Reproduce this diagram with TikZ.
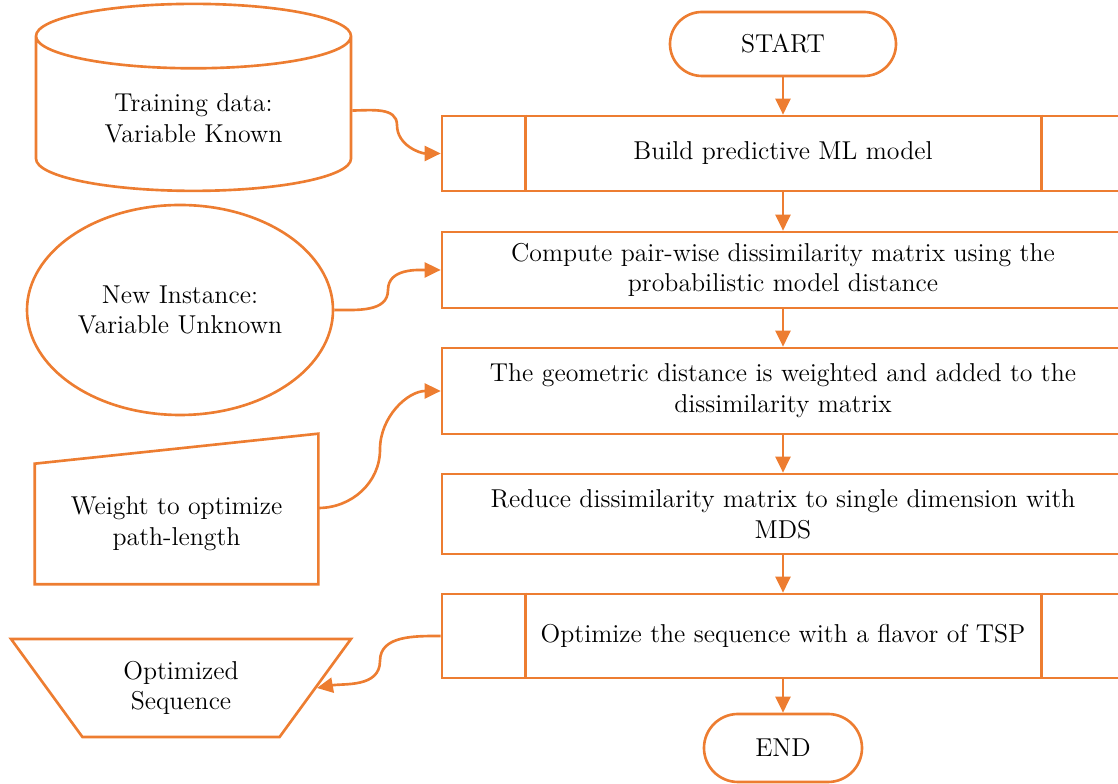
\documentclass[tikz,border=0pt]{standalone}
\usetikzlibrary{shapes.geometric,arrows.meta}
\definecolor{flow}{HTML}{ED7D31}

\begin{document}
\begin{tikzpicture}[font=\fontsize{14.7}{17.5}\selectfont, line width=1.5pt,
    box/.style={draw=flow, align=center, minimum width=13.64cm, inner sep=0pt},
    term/.style={draw=flow, rounded corners=0.64cm, minimum height=1.28cm},
    link/.style={draw=flow, -{Triangle[length=0.32cm,width=0.3cm]}}]
    \useasboundingbox (0,0) rectangle (22.36,15.68);

    % main column
    \node[term, minimum width=4.52cm](start) at (15.66,14.80) {START};
    \node[box, minimum height=1.50cm](build) at (15.66,12.61) {Build predictive ML model};
    \node[box, minimum height=1.52cm](pairwise) at (15.66,10.28) {Compute pair-wise dissimilarity matrix using the\\probabilistic model distance};
    \node[box, minimum height=1.72cm](geodist) at (15.66,7.86) {The geometric distance is weighted and added to the\\dissimilarity matrix};
    \node[box, minimum height=1.60cm](mds) at (15.66,5.40) {Reduce dissimilarity matrix to single dimension with\\MDS};
    \node[box, minimum height=1.68cm](tsp) at (15.66,2.96) {Optimize the sequence with a flavor of TSP};
    \node[term, minimum width=3.16cm, minimum height=1.36cm, rounded corners=0.68cm](stop) at (15.66,0.72) {END};

    \foreach \b in {build,tsp} {
        \draw[flow] ([xshift=1.7cm]\b.north west) -- ([xshift=1.7cm]\b.south west);
        \draw[flow] ([xshift=-1.68cm]\b.north east) -- ([xshift=-1.68cm]\b.south east);
    }

    \draw[link] (start) -- (build);
    \draw[link] (build) -- (pairwise);
    \draw[link] (pairwise) -- (geodist);
    \draw[link] (geodist) -- (mds);
    \draw[link] (mds) -- (tsp);
    \draw[link] (tsp) -- (stop);

    % inputs and output
    \node[cylinder, shape border rotate=90, aspect=0.34, draw=flow, minimum width=6.3cm, minimum height=3.74cm, align=center](data) at (3.87,13.31) {Training data:\\Variable Known};
    \node[ellipse, draw=flow, minimum width=6.12cm, minimum height=4.2cm, inner sep=0pt, align=center](inst) at (3.60,9.48) {New Instance:\\Variable Unknown};
    \node[minimum width=5.62cm, minimum height=2.36cm, align=center](weight) at (3.53,5.20) {Weight to optimize\\path-length};
    \draw[flow] (weight.south west) -- (weight.north west) -- ([yshift=0.6cm]weight.north east) -- (weight.south east) -- cycle;
    \node[trapezium, shape border rotate=180, trapezium stretches=true, trapezium left angle=55, trapezium right angle=55, draw=flow, minimum width=6.8cm, minimum height=1.96cm, align=center](seq) at (3.62,1.92) {Optimized\\Sequence};

    \coordinate (bend1) at (7.94,13.18);
    \coordinate (bend2) at (7.76,9.88);
    \coordinate (bend3) at (7.60,6.69);
    \coordinate (bend4) at (7.60,2.46);
    \draw[link] ([yshift=0.16cm]data.east) to[out=0,in=90] (bend1) to[out=-90,in=180] (build.west);
    \draw[link] (inst.east) to[out=0,in=-90] (bend2) to[out=90,in=180] (pairwise.west);
    \draw[link] ([yshift=0.32cm]weight.east) to[out=0,in=-90] (bend3) to[out=90,in=180] (geodist.west);
    \draw[link] (tsp.west) to[out=180,in=90] (bend4) to[out=-90,in=10] (seq.east);
\end{tikzpicture}
\end{document}
